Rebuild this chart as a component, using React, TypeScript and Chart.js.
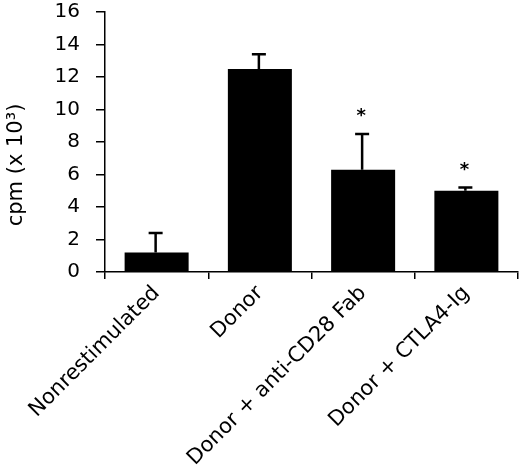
import React, { useEffect, useRef } from 'react';
import { Chart, registerables } from 'chart.js';
Chart.register(...registerables);

const categories = ['Nonrestimulated', 'Donor', 'Donor + anti-CD28 Fab', 'Donor + CTLA4-Ig'];
const cpmValues = [1.2, 12.5, 6.3, 5.0];
const errorTops = [2.4, 13.4, 8.5, 5.2];
const asteriskLevels: (number | null)[] = [null, null, 9.8, 6.5];
const yMin = 0;
const yMax = 16;
const yStep = 2;
const yTitle = 'cpm (x 10³)';

const FONT = '"DejaVu Sans", "Liberation Sans", Arial, sans-serif';

const annotations = {
  id: 'annotations',
  afterDatasetsDraw(chart: any) {
    const { ctx, scales } = chart;
    const meta = chart.getDatasetMeta(0);
    ctx.save();
    ctx.strokeStyle = '#000';
    ctx.fillStyle = '#000';
    ctx.lineWidth = 2.5;
    errorTops.forEach((top, i) => {
      const bar = meta.data[i];
      if (!bar) return;
      const x = bar.x - 1;
      const yTop = scales.y.getPixelForValue(top);
      const yBar = scales.y.getPixelForValue(cpmValues[i]);
      ctx.beginPath();
      ctx.moveTo(x, yBar);
      ctx.lineTo(x, yTop);
      ctx.moveTo(x - 7, yTop);
      ctx.lineTo(x + 7, yTop);
      ctx.stroke();
    });
    ctx.font = `bold 18px ${FONT}`;
    ctx.textAlign = 'center';
    ctx.textBaseline = 'middle';
    asteriskLevels.forEach((lvl, i) => {
      if (lvl === null) return;
      const x = scales.x.getPixelForValue(i);
      ctx.fillText('*', x - 2, scales.y.getPixelForValue(lvl) + 4);
    });
    ctx.restore();
  },
  afterDraw(chart: any) {
    const { ctx } = chart;
    ctx.save();
    ctx.fillStyle = '#000';
    ctx.font = `21px ${FONT}`;
    ctx.textAlign = 'center';
    ctx.textBaseline = 'middle';
    ctx.translate(17, 165);
    ctx.rotate(-Math.PI / 2);
    ctx.fillText(yTitle, 0, 0);
    ctx.restore();
  },
};

export default function App(): React.ReactElement {
  const canvasRef = useRef<HTMLCanvasElement | null>(null);
  const chartRef = useRef<Chart | null>(null);

  useEffect(() => {
    document.body.style.margin = '0';
    if (!canvasRef.current) return;
    const ctx = canvasRef.current.getContext('2d');
    if (!ctx) return;
    if (chartRef.current) chartRef.current.destroy();

    chartRef.current = new Chart(ctx, {
      type: 'bar',
      data: {
        labels: categories,
        datasets: [
          {
            data: cpmValues,
            backgroundColor: '#000',
            borderWidth: 0,
            barPercentage: 0.62,
            categoryPercentage: 1,
          },
        ],
      },
      options: {
        responsive: true,
        maintainAspectRatio: false,
        animation: false,
        layout: { padding: { top: 12, right: 2, left: 0, bottom: 0 } },
        plugins: {
          legend: { display: false },
          tooltip: { enabled: false },
        },
        scales: {
          x: {
            grid: { drawOnChartArea: false, drawTicks: true, tickLength: 7, color: '#000', lineWidth: 1.5 },
            border: { display: true, color: '#000', width: 1.5 },
            ticks: {
              color: '#000',
              font: { family: FONT, size: 21 },
              minRotation: 45,
              maxRotation: 45,
              padding: 2,
            },
            afterFit(scale: any) {
              scale.height = 196;
              scale.paddingLeft = 0;
              scale.paddingRight = 0;
            },
          },
          y: {
            min: yMin,
            max: yMax,
            grid: { drawOnChartArea: false, drawTicks: true, tickLength: 9, color: '#000', lineWidth: 1.5 },
            border: { display: true, color: '#000', width: 1.5 },
            ticks: {
              stepSize: yStep,
              color: '#000',
              font: { family: FONT, size: 20 },
              padding: 16,
            },
            afterFit(scale: any) {
              scale.width = 105;
              scale.paddingTop = 0;
              scale.paddingBottom = 0;
            },
          },
        },
      },
      plugins: [annotations],
    });

    return () => {
      if (chartRef.current) {
        chartRef.current.destroy();
        chartRef.current = null;
      }
    };
  }, []);

  return (
    <div style={{ width: '520px', height: '468px', position: 'relative' }}>
      <canvas ref={canvasRef} />
    </div>
  );
}
